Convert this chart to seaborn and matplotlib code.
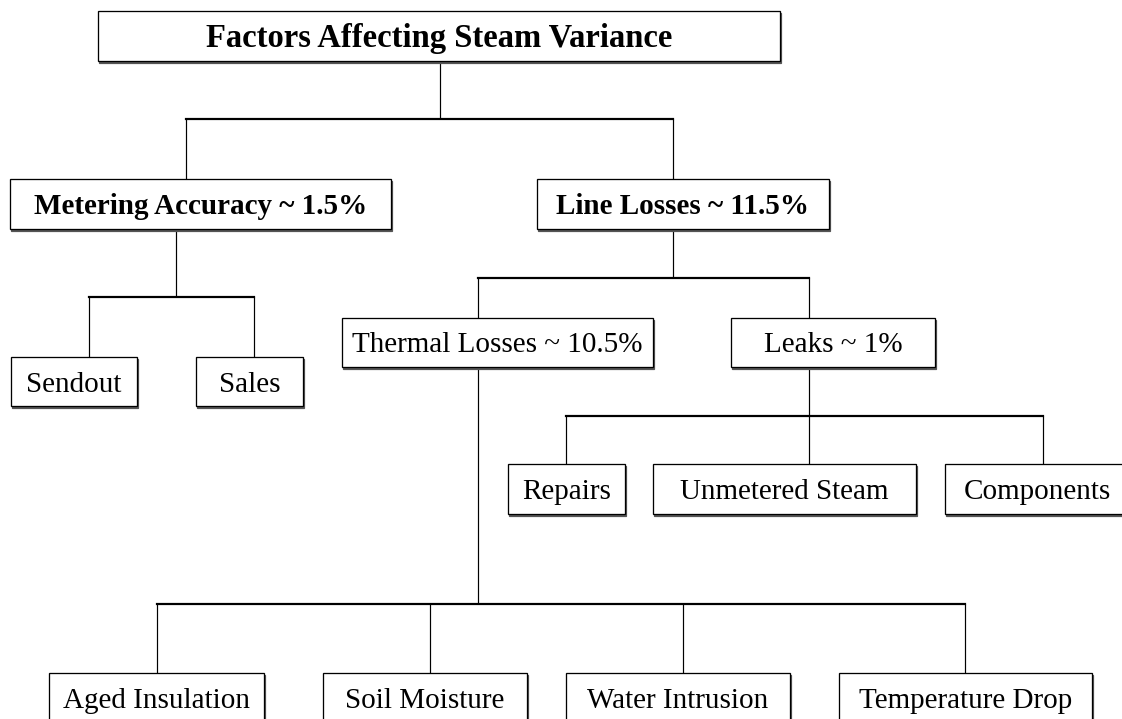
import matplotlib
matplotlib.use("Agg")
import matplotlib.pyplot as plt
import seaborn as sns
from matplotlib.patches import Rectangle

sns.set_theme(style="white")
plt.rcParams['font.family'] = ['Liberation Serif', 'DejaVu Serif']

# ---- data: node labels ----
root_label = "Factors Affecting Steam Variance"
level1_labels = ["Metering Accuracy ~ 1.5%", "Line Losses ~ 11.5%"]
metering_children = ["Sendout", "Sales"]
lineloss_children = ["Thermal Losses ~ 10.5%", "Leaks ~ 1%"]
leaks_children = ["Repairs", "Unmetered Steam", "Components"]
thermal_children = ["Aged Insulation", "Soil Moisture", "Water Intrusion", "Temperature Drop"]

# ---- layout (pixel boxes: x0, x1, y0, y1) ----
boxes = {
    root_label: (98, 780, 11, 61),
    level1_labels[0]: (10, 391, 179, 229),
    level1_labels[1]: (537, 829, 179, 229),
    metering_children[0]: (11, 137, 357, 406),
    metering_children[1]: (196, 303, 357, 406),
    lineloss_children[0]: (342, 653, 318, 367),
    lineloss_children[1]: (731, 935, 318, 367),
    leaks_children[0]: (508, 625, 464, 514),
    leaks_children[1]: (653, 916, 464, 514),
    leaks_children[2]: (945, 1141, 464, 514),
    thermal_children[0]: (49, 264, 673, 723),
    thermal_children[1]: (323, 527, 673, 723),
    thermal_children[2]: (566, 790, 673, 723),
    thermal_children[3]: (839, 1092, 673, 723),
}
bold = {root_label: 23.5, level1_labels[0]: 21, level1_labels[1]: 21}

# connectors: (parent, children, parent_x, bar_y, child_xs)
connectors = [
    (root_label, level1_labels, 440, 119, [186, 673]),
    (level1_labels[0], metering_children, 176, 297, [89, 254]),
    (level1_labels[1], lineloss_children, 673, 278, [478, 809]),
    (lineloss_children[1], leaks_children, 809, 416, [566, 809, 1043]),
    (lineloss_children[0], thermal_children, 478, 604, [157, 430, 683, 965]),
]

W, H = 1122, 719
fig = plt.figure(figsize=(W / 100, H / 100), dpi=100)
ax = fig.add_axes([0, 0, 1, 1])
ax.set_xlim(0, W)
ax.set_ylim(H, 0)
ax.axis('off')

px = 0.72  # points per pixel

for parent, children, pxx, bary, cxs in connectors:
    py1 = boxes[parent][3]
    ax.plot([pxx, pxx], [py1, bary], color='black', lw=1.2 * px, solid_capstyle='butt')
    ax.plot([min(cxs), max(cxs)], [bary, bary], color='black', lw=2.2 * px, solid_capstyle='projecting')
    for c, cx in zip(children, cxs):
        cy0 = boxes[c][2]
        ax.plot([cx, cx], [bary, cy0], color='black', lw=1.2 * px, solid_capstyle='butt')

for label, (x0, x1, y0, y1) in boxes.items():
    # subtle shadow
    ax.add_patch(Rectangle((x0 + 1.5, y0 + 1.5), x1 - x0, y1 - y0, facecolor='#555555',
                           edgecolor='#555555', lw=1.2 * px, zorder=2))
    ax.add_patch(Rectangle((x0, y0), x1 - x0, y1 - y0, facecolor='white',
                           edgecolor='black', lw=1.3 * px, zorder=3))
    cx = (x0 + x1) / 2 if x1 < W else 1037
    cy = (y0 + y1) / 2 + 3
    if label in bold:
        ax.text(cx, cy, label, ha='center', va='center',
                fontsize=bold[label], fontweight='bold', color='black', zorder=4)
    else:
        ax.text(cx, cy, label, ha='center', va='center',
                fontsize=21, color='black', zorder=4)

fig.savefig("out.png", dpi=100, facecolor='white')
